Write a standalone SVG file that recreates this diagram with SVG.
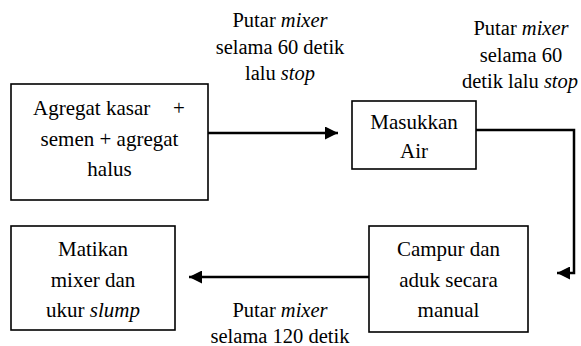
<svg xmlns="http://www.w3.org/2000/svg" width="581" height="346" viewBox="0 0 581 346">
<style>
.box{fill:#fff;stroke:#000;stroke-width:1.6}
text{font-family:"Liberation Serif",Tinos,"Times New Roman","DejaVu Serif",serif;fill:#000;text-anchor:middle}
.t{font-size:21px}
.l{font-size:20.5px}
.i{font-style:italic}
.c{fill:none;stroke:#000;stroke-width:2.5}
</style>
<defs>
<marker id="ah" viewBox="0 0 10 10" refX="10" refY="5" markerWidth="5.6" markerHeight="5.2" orient="auto" markerUnits="strokeWidth">
<path d="M0,0 L10,5 L0,10 Z" fill="#000"/>
</marker>
</defs>
<rect width="581" height="346" fill="#fff"/>
<g id="connectors">
<path class="c" d="M208,133 H338" marker-end="url(#ah)"/>
<path class="c" d="M476,130 H574 V273 H557" marker-end="url(#ah)"/>
<path class="c" d="M369,277 H189" marker-end="url(#ah)"/>
</g>
<g id="labels">
<text class="l" x="280" y="27">Putar <tspan class="i">mixer</tspan></text>
<text class="l" x="280" y="54">selama 60 detik</text>
<text class="l" x="280" y="80">lalu <tspan class="i">stop</tspan></text>
<text class="l" x="521" y="35">Putar <tspan class="i">mixer</tspan></text>
<text class="l" x="521" y="62">selama 60</text>
<text class="l" x="520" y="88">detik lalu <tspan class="i">stop</tspan></text>
<text class="l" x="280" y="317">Putar <tspan class="i">mixer</tspan></text>
<text class="l" x="280" y="343">selama 120 detik</text>
</g>
<g id="node1">
<rect class="box" x="11" y="84" width="197" height="116"/>
<text class="t" x="33" y="115" style="text-anchor:start">Agregat kasar <tspan x="173">+</tspan></text>
<text class="t" x="109.5" y="146">semen + agregat</text>
<text class="t" x="109.5" y="176">halus</text>
</g>
<g id="node2">
<rect class="box" x="352" y="101" width="124" height="68"/>
<text class="t" x="414" y="129">Masukkan</text>
<text class="t" x="414" y="158">Air</text>
</g>
<g id="node3">
<rect class="box" x="369" y="226" width="159" height="106"/>
<text class="t" x="448.5" y="256">Campur dan</text>
<text class="t" x="448.5" y="287">aduk secara</text>
<text class="t" x="448.5" y="317">manual</text>
</g>
<g id="node4">
<rect class="box" x="11" y="226" width="164" height="104"/>
<text class="t" x="93" y="256">Matikan</text>
<text class="t" x="93" y="287">mixer dan</text>
<text class="t" x="93" y="317">ukur <tspan class="i">slump</tspan></text>
</g>
</svg>
